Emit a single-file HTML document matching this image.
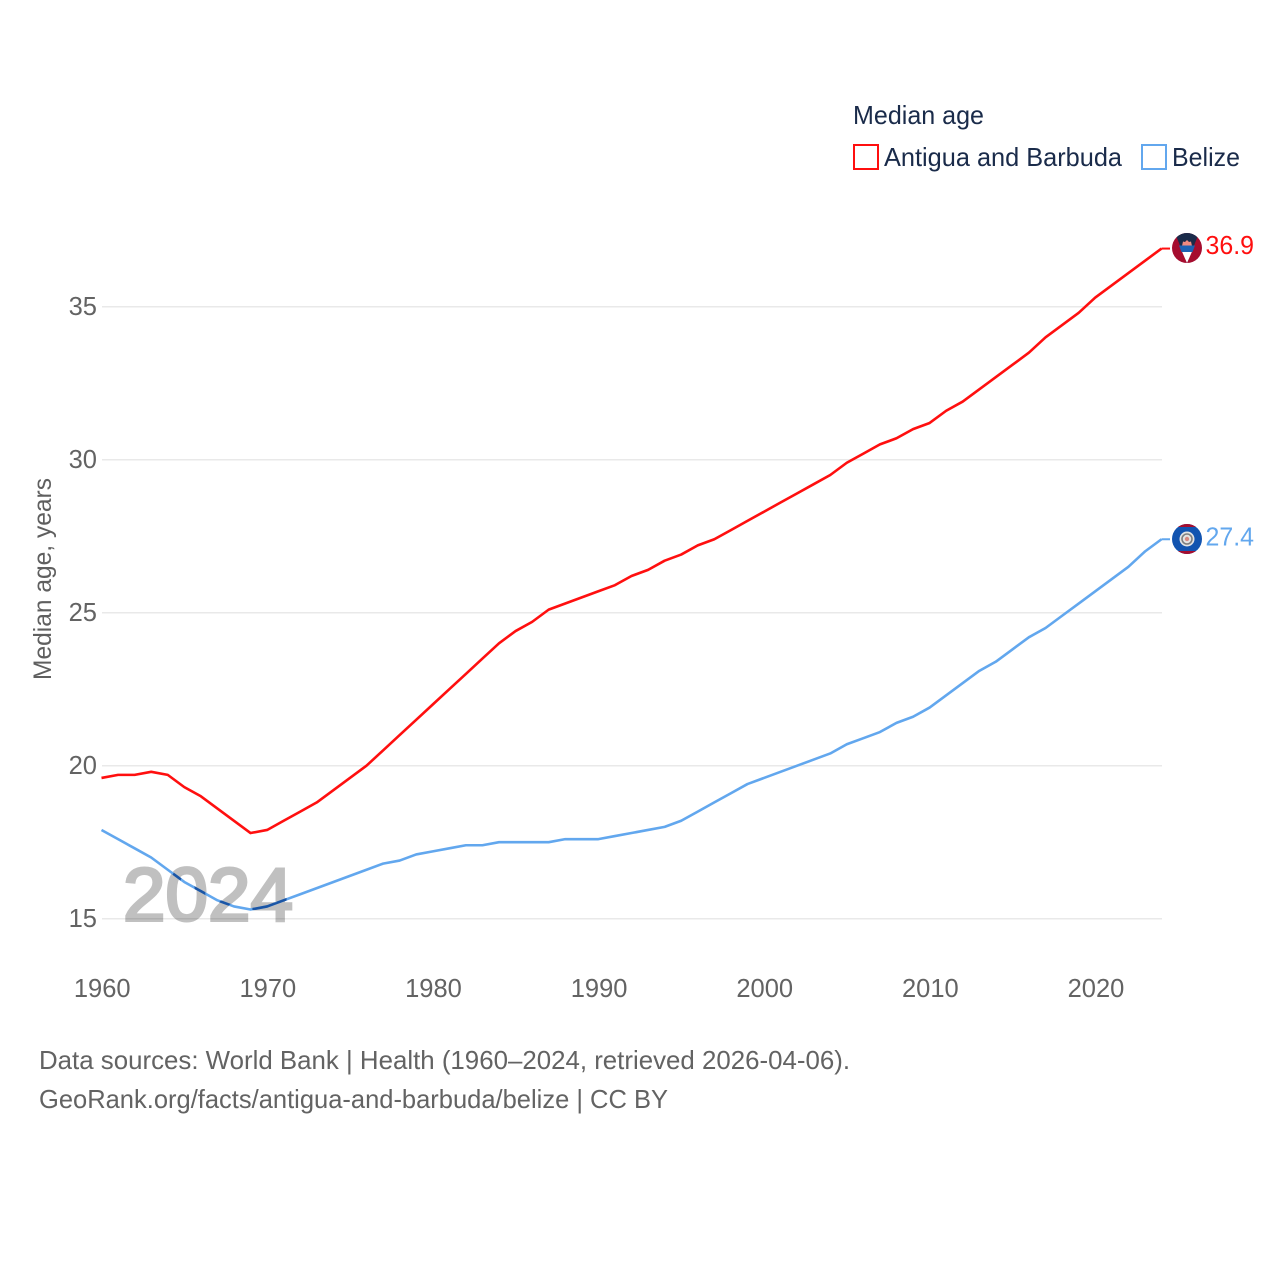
<!DOCTYPE html>
<html lang="en">
<head>
<meta charset="utf-8">
<title>Median age: Antigua and Barbuda and Belize</title>
<style>
html,body{margin:0;padding:0;background:#fff;width:1280px;height:1280px;overflow:hidden}
svg{display:block;font-family:"Liberation Sans",sans-serif}
</style>
</head>
<body>
<svg id="chart" xmlns="http://www.w3.org/2000/svg" width="1280" height="1280" viewBox="0 0 1280 1280">
  <defs>
    <clipPath id="year-clip"><text x="123" y="920.5" font-size="76" font-weight="bold" textLength="171" lengthAdjust="spacingAndGlyphs">2024</text></clipPath>
    <clipPath id="flag-clip-a"><circle cx="1187" cy="248" r="15"/></clipPath>
    <clipPath id="flag-clip-b"><circle cx="1187" cy="539" r="15"/></clipPath>
  </defs>
  <g id="grid"></g>
  <g id="y-ticks"></g>
  <g id="x-ticks"></g>
  <text transform="translate(51,680) rotate(-90)" font-size="25" fill="#5f5f5f" textLength="202" lengthAdjust="spacingAndGlyphs">Median age, years</text>
  <text x="123" y="920.5" font-size="75" fill="#c0c0c0" stroke="#c0c0c0" stroke-width="3" textLength="170" lengthAdjust="spacingAndGlyphs" style="mix-blend-mode:multiply">2024</text>
  <g id="lines"></g>

  <text x="853" y="124" font-size="26" fill="#1a2b4a" textLength="131" lengthAdjust="spacingAndGlyphs">Median age</text>
  <rect x="854" y="145" width="24" height="24" fill="#fff" stroke="#ff0f0f" stroke-width="2"/>
  <text x="884" y="166" font-size="26" fill="#1a2b4a" textLength="238" lengthAdjust="spacingAndGlyphs">Antigua and Barbuda</text>
  <rect x="1142" y="145" width="24" height="24" fill="#fff" stroke="#62a7ee" stroke-width="2"/>
  <text x="1172" y="166" font-size="26" fill="#1a2b4a" textLength="68" lengthAdjust="spacingAndGlyphs">Belize</text>

  <g clip-path="url(#flag-clip-a)">
    <rect x="1172" y="233" width="30" height="30" fill="#a50d2f"/>
    <polygon points="1175,233 1199,233 1187,263" fill="#1a2b4a"/>
    <polygon points="1179.5,246 1194.5,246 1187,263" fill="#fff"/>
    <polygon points="1182,246 1183,241.5 1185,242 1187,240 1189,242 1191,241.5 1192,246" fill="#f08a80"/>
    <polygon points="1179,245.5 1195,245.5 1192.5,252 1181.5,252" fill="#1c62b4"/>
  </g>
  <g clip-path="url(#flag-clip-b)">
    <rect x="1172" y="524" width="30" height="30" fill="#1254b0"/>
    <rect x="1172" y="524" width="30" height="3" fill="#a50d2f"/>
    <rect x="1172" y="551" width="30" height="3" fill="#a50d2f"/>
    <circle cx="1187" cy="539" r="7.5" fill="#e4e4e4"/>
    <circle cx="1187" cy="539" r="5" fill="none" stroke="#7f7f7f" stroke-width="1.6"/>
    <circle cx="1187" cy="539" r="2.2" fill="#d98a80"/>
  </g>
  <text x="1205.5" y="254" font-size="25.5" fill="#ff0f0f" textLength="48.5" lengthAdjust="spacingAndGlyphs">36.9</text>
  <text x="1205.5" y="545.5" font-size="25.5" fill="#62a7ee" textLength="48.5" lengthAdjust="spacingAndGlyphs">27.4</text>

  <text x="39" y="1069" font-size="26" fill="#636363" textLength="811" lengthAdjust="spacingAndGlyphs">Data sources: World Bank | Health (1960–2024, retrieved 2026-04-06).</text>
  <text x="39" y="1108" font-size="26" fill="#636363" textLength="629" lengthAdjust="spacingAndGlyphs">GeoRank.org/facts/antigua-and-barbuda/belize | CC BY</text>
</svg>
<script>
const years = [1960,1961,1962,1963,1964,1965,1966,1967,1968,1969,1970,1971,1972,1973,1974,1975,1976,1977,1978,1979,1980,1981,1982,1983,1984,1985,1986,1987,1988,1989,1990,1991,1992,1993,1994,1995,1996,1997,1998,1999,2000,2001,2002,2003,2004,2005,2006,2007,2008,2009,2010,2011,2012,2013,2014,2015,2016,2017,2018,2019,2020,2021,2022,2023,2024];
const antigua = [19.6,19.7,19.7,19.8,19.7,19.3,19.0,18.6,18.2,17.8,17.9,18.2,18.5,18.8,19.2,19.6,20.0,20.5,21.0,21.5,22.0,22.5,23.0,23.5,24.0,24.4,24.7,25.1,25.3,25.5,25.7,25.9,26.2,26.4,26.7,26.9,27.2,27.4,27.7,28.0,28.3,28.6,28.9,29.2,29.5,29.9,30.2,30.5,30.7,31.0,31.2,31.6,31.9,32.3,32.7,33.1,33.5,34.0,34.4,34.8,35.3,35.7,36.1,36.5,36.9];
const belize = [17.9,17.6,17.3,17.0,16.6,16.2,15.9,15.6,15.4,15.3,15.4,15.6,15.8,16.0,16.2,16.4,16.6,16.8,16.9,17.1,17.2,17.3,17.4,17.4,17.5,17.5,17.5,17.5,17.6,17.6,17.6,17.7,17.8,17.9,18.0,18.2,18.5,18.8,19.1,19.4,19.6,19.8,20.0,20.2,20.4,20.7,20.9,21.1,21.4,21.6,21.9,22.3,22.7,23.1,23.4,23.8,24.2,24.5,24.9,25.3,25.7,26.1,26.5,27.0,27.4];
const yTickValues = [15,20,25,30,35];
const xTickValues = [1960,1970,1980,1990,2000,2010,2020];

const NS = 'http://www.w3.org/2000/svg';
function xScale(year){ return 101.5 + (year - 1960) * 16.5625; }
function yScale(v){ return 918.7 - (v - 15) * 30.6; }
function make(tag, attrs, parent){
  const el = document.createElementNS(NS, tag);
  for (const k in attrs) el.setAttribute(k, attrs[k]);
  parent.appendChild(el);
  return el;
}
const gridG = document.getElementById('grid');
const yG = document.getElementById('y-ticks');
const xG = document.getElementById('x-ticks');
const linesG = document.getElementById('lines');

yTickValues.forEach(function(v){
  const ln = make('line', {x1:102, x2:1162, y1:yScale(v), y2:yScale(v), stroke:'#e9e9e9', 'stroke-width':1.5}, gridG);
  
  
  const t = make('text', {x:97, y:yScale(v)+8.3, 'text-anchor':'end', 'font-size':25.5, fill:'#636363'}, yG);
  
  
  t.textContent = v;
});
xTickValues.forEach(function(y){
  const t = make('text', {x:xScale(y)+0.7, y:997, 'text-anchor':'middle', 'font-size':25.5, fill:'#636363'}, xG);
  
  
  t.textContent = y;
});
function pathFor(vals){
  return vals.map(function(v,i){ return (i ? 'L' : 'M') + xScale(years[i]).toFixed(2) + ' ' + yScale(v).toFixed(2); }).join(' ');
}
function connector(vals, color){
  const last = vals[vals.length-1];
  const c = make('line', {x1:xScale(years[years.length-1]), x2:1170, y1:yScale(last), y2:yScale(last), stroke:color, 'stroke-width':2}, linesG);
  
  
}
const lineA = make('path', {d:pathFor(antigua), fill:'none', stroke:'#ff0f0f', 'stroke-width':2.6, 'stroke-linejoin':'round'}, linesG);


connector(antigua, '#ff0f0f');
const lineB = make('path', {d:pathFor(belize), fill:'none', stroke:'#62a7ee', 'stroke-width':2.6, 'stroke-linejoin':'round'}, linesG);


connector(belize, '#62a7ee');
const lineOver = make('path', {d:pathFor(belize), fill:'none', stroke:'#1a55a5', 'stroke-width':2.6, 'stroke-linejoin':'round', 'clip-path':'url(#year-clip)'}, linesG);


</script>
</body>
</html>
